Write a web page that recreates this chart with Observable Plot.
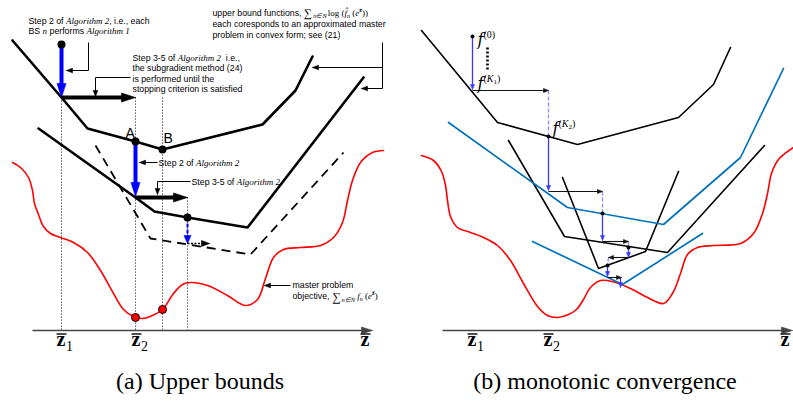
<!DOCTYPE html>
<html><head><meta charset="utf-8">
<script src="https://cdn.jsdelivr.net/npm/d3@7"></script>
<script src="https://cdn.jsdelivr.net/npm/@observablehq/plot@0.6"></script>
<style>
body{margin:0;background:#fff;}
#wrap{position:relative;width:793px;height:411px;background:#fff;}
.cap{position:absolute;top:369px;font-family:"Liberation Serif",serif;font-size:24px;line-height:24px;white-space:nowrap;transform:translateX(-50%);color:#000;}
</style></head><body>
<div id="wrap"><div id="chart"></div>
<div class="cap" style="left:200px">(a) Upper bounds</div>
<div class="cap" style="left:605px">(b) monotonic convergence</div></div>
<script>
// ---------- data (diagram units = pixels of the reference) ----------
// panel (a)
const leftUpper = [[12,40],[61,97],[87,128],[135,141],[162,149],[262,124],[295,90],[312,56]];
const leftMiddle = [[38,128],[135,197],[154,211],[187,217],[247,227],[363,77]];
const leftDashed = [[95,145],[150,238],[250,254],[343,152]];
const leftObjective = [[12,162],[20,167],[28,177],[32,190],[34,203],[38,214],[43,226],[50,233],[60,237],[73,242],[87,252],[100,270],[113,293],[123,309],[133,316],[142,318],[152,315],[162,309],[173,293],[182,284],[190,282],[207,285],[227,295],[245,305],[257,299],[265,278],[273,257],[283,249],[300,247],[320,245],[333,237],[342,222],[347,200],[352,180],[360,162],[372,152],[383,150]];
const leftBlackDots = [[61,44],[135,141],[162,149],[187,217]];
const leftRedDots = [[135,317],[162,309]];
const leftGuides = [[61,97,330],[135,97,330],[162,97,330],[187,197,330]];
const leftThickBlue = [[[61,44],[61,97]],[[135,141],[135,196]]];
const leftThickBlack = [[[61,97],[135,97]],[[135,197],[187,197]]];
const leftSmallBlue = [[[187,217],[187,243]]];
const leftSmallBlack = [[[187,243],[209,243]]];
const leaders = [[[88,42],[88,70],[66,70]],[[130,77],[95,77],[95,96]],[[382,42],[382,88],[361,88]],[[382,67],[312,67]],[[157,162],[139,162]],[[190,181],[157,181],[157,194]],[[290,285],[264,285]]];
// panel (b)
const rightUpper = [[421,30],[497,122],[577,144],[678,117],[713,84],[730,47]];
const rightBlue1 = [[448,122],[567,207],[663,224],[740,157],[783,68]];
const rightBlack2 = [[508,140],[564,236],[667,252],[764,145]];
const rightBlack3 = [[562,177],[598,268],[645,251],[678,171]];
const rightBlue2 = [[532,241],[622,284],[702,233]];
const rightObjective = [[421,155],[433,160],[441,171],[445,185],[447,200],[450,216],[457,227],[470,232],[483,237],[497,245],[510,260],[523,283],[537,306],[547,315],[557,317],[568,314],[576,309],[583,299],[590,287],[600,280],[612,281],[630,288],[647,297],[663,303],[672,293],[680,273],[687,254],[697,247],[713,245],[740,243],[753,233],[762,213],[767,193],[771,173],[778,159],[793,147]];
const rightDots = [[472,36],[548,136],[602,213],[628,247],[607,265]];
const rightBlueArrows = [[[472,36],[472,89]],[[548,136],[548,190]],[[602,213],[602,240]],[[628,247],[628,257]],[[607,265],[607,276]],[[620,277],[620,287]]];
const rightBlackArrows = [[[472,90],[548,90]],[[548,191],[602,191]],[[602,241],[628,241]],[[628,257],[608,257]],[[607,277],[621,277]]];
const rightLightDashes = [[548,90,548,136],[602,191,602,213],[628,241,628,247],[608,257,607,265]];
const rightDotted = [[487,47,487,70]];
// axes
const axes = [[[32,330],[372,330]],[[442,330],[792,330]]];
const axisLabels = [[61,"1"],[136,"2"],[365,""],[472,"1"],[548,"2"],[785,""]];
// texts: [style, text, size, dy]
const noteLines = [
  {x:28,y:23,segs:[["sans","Step 2 of ",8.75],["alg","Algorithm 2",9],["sans",", i.e., each",8.75]]},
  {x:28,y:33.5,segs:[["sans","BS ",8.75],["alg","n",9],["sans"," performs ",8.75],["alg","Algorithm 1",9]]},
  {x:132,y:60,segs:[["sans","Step 3-5 of ",8.75],["alg","Algorithm 2",9],["sans","  i.e.,",8.75]]},
  {x:132,y:70.5,segs:[["sans","the subgradient method (24)",8.75]]},
  {x:132,y:81,segs:[["sans","is performed until the",8.75]]},
  {x:132,y:91,segs:[["sans","stopping criterion is satisfied",8.75]]},
  {x:212,y:15.8,segs:[["sans","upper bound functions, ",8.75],["rm","\u2211",11.5,0.5],["rm","\u2009",5],["it","n\u2208N",6.5,1.5],["rm","\u2009",5],["rm","log",9],["rm"," (",9],["it","f\u0302",9],["it","n",6,1.5],["rm"," (",9],["it","e",9],["bf","z\u0304",6,-4],["rm","))",9]]},
  {x:212,y:26.8,segs:[["sans","each coresponds to an approximated master",8.75]]},
  {x:212,y:37,segs:[["sans","problem in convex form; see (21)",8.75]]},
  {x:158,y:165,segs:[["sans","Step 2 of ",8.75],["alg","Algorithm 2",9]]},
  {x:191,y:184,segs:[["sans","Step 3-5 of ",8.75],["alg","Algorithm 2",9]]},
  {x:292,y:287,segs:[["sans","master problem",8.75]]},
  {x:292,y:298.5,segs:[["sans","objective, ",8.75],["rm","\u2211",12,1.5],["rm","\u2009",5],["it","n\u2208N",6.5,3],["it"," f",9],["it","n",6,2],["rm"," (",9],["it","e",9],["bf","z\u0304",6,-4],["rm",")",9]]},
  {x:125,y:137,segs:[["sans","A",14]]},
  {x:163,y:142,segs:[["sans","B",14]]},
  {x:477,y:44,segs:[["mi","f",16],["rm","(0)",10,-7]]},
  {x:477,y:88,segs:[["mi","f",16],["rm","(",10,-7],["it","K",10,-7],["rm","1",7,-5],["rm",")",10,-7]]},
  {x:552,y:133,segs:[["mi","f",16],["rm","(",10,-7],["it","K",10,-7],["rm","2",7,-5],["rm",")",10,-7]]}
];

// ---------- helpers ----------
const ctx = document.createElement("canvas").getContext("2d");
const RT = {
  sans:{fontFamily:"Liberation Sans",fontStyle:"normal",fontWeight:"normal"},
  alg:{fontFamily:"Liberation Serif",fontStyle:"italic",fontWeight:"normal"},
  rm:{fontFamily:"Liberation Serif",fontStyle:"normal",fontWeight:"normal"},
  it:{fontFamily:"Liberation Serif",fontStyle:"italic",fontWeight:"normal"},
  mi:{fontFamily:"DejaVu Serif",fontStyle:"italic",fontWeight:"normal"},
  bf:{fontFamily:"Liberation Serif",fontStyle:"normal",fontWeight:"bold"}
};
function layoutText(lines){
  const out=[];
  for(const L of lines){
    let x=L.x;
    for(const [k,t,s,dy=0] of L.segs){
      const st=RT[k];
      ctx.font=`${st.fontStyle} ${st.fontWeight} ${s}px "${st.fontFamily}"`;
      if(t.trim()) out.push({k,t,s,x,y:L.y+dy});
      x+=ctx.measureText(t).width;
    }
  }
  return out;
}
function textMarks(items){
  return Object.keys(RT).map(k=>Plot.text(items.filter(d=>d.k===k),
    {x:"x",y:"y",text:"t",fontSize:d=>d.s,textAnchor:"start",lineAnchor:"bottom",fill:"black",...RT[k]}));
}
function arrowMarks(arrs,{color="black",width=1,len=6,hw=2.5,dash=null}){
  const shafts=[],heads=[];
  arrs.forEach((p,i)=>{
    const n=p.length,[x1,y1]=p[n-2],[x2,y2]=p[n-1];
    const dx=x2-x1,dy=y2-y1,L=Math.hypot(dx,dy),ux=dx/L,uy=dy/L;
    p.slice(0,n-1).forEach(([x,y])=>shafts.push({id:i,x,y}));
    shafts.push({id:i,x:x2-ux*len*0.85,y:y2-uy*len*0.85});
    const bx=x2-ux*len,by=y2-uy*len;
    heads.push({id:i,x:x2,y:y2},{id:i,x:bx-uy*hw,y:by+ux*hw},{id:i,x:bx+uy*hw,y:by-ux*hw},{id:i,x:x2,y:y2});
  });
  return [
    Plot.line(shafts,{x:"x",y:"y",z:"id",stroke:color,strokeWidth:width,strokeDasharray:dash,strokeLinecap:"butt",strokeLinejoin:"miter"}),
    Plot.line(heads,{x:"x",y:"y",z:"id",stroke:color,fill:color,strokeWidth:0.6,strokeLinejoin:"miter"})
  ];
}
const X=d=>d[0], Y=d=>d[1];

// axis label items
const zItems = [];
axisLabels.forEach(([x,s])=>{
  zItems.push({k:"bf",t:"z",s:20,x:x-5,y:345});
  if(s) zItems.push({k:"rm",t:s,s:14,x:x+4.5,y:350});
});
const zBars = axisLabels.map(([x])=>[x-5,333.5,x+5,333.5]);

const chart = Plot.plot({
  width:793, height:360, margin:0,
  x:{domain:[0,793],range:[0,793],axis:null},
  y:{domain:[0,360],range:[0,360],axis:null},
  style:{background:"white"},
  marks:[
    // objective curves
    Plot.line(leftObjective,{x:X,y:Y,curve:"catmull-rom",stroke:"#ff0000",strokeWidth:1.6}),
    Plot.line(rightObjective,{x:X,y:Y,curve:"catmull-rom",stroke:"#ff0000",strokeWidth:1.6}),
    // guides
    Plot.link(leftGuides,{x1:d=>d[0],y1:d=>d[1],x2:d=>d[0],y2:d=>d[2],stroke:"#333",strokeWidth:1,strokeDasharray:"1.2,1.8"}),
    // panel a polylines
    Plot.line(leftUpper,{x:X,y:Y,stroke:"black",strokeWidth:2.6,strokeLinejoin:"miter"}),
    Plot.line(leftMiddle,{x:X,y:Y,stroke:"black",strokeWidth:2.6,strokeLinejoin:"miter"}),
    Plot.line(leftDashed,{x:X,y:Y,stroke:"black",strokeWidth:1.8,strokeDasharray:"9,6",strokeLinecap:"butt",strokeLinejoin:"miter"}),
    // panel b polylines
    Plot.line(rightUpper,{x:X,y:Y,stroke:"black",strokeWidth:1.6,strokeLinejoin:"miter"}),
    Plot.line(rightBlack2,{x:X,y:Y,stroke:"black",strokeWidth:1.6,strokeLinejoin:"miter"}),
    Plot.line(rightBlack3,{x:X,y:Y,stroke:"black",strokeWidth:1.6,strokeLinejoin:"miter"}),
    Plot.line(rightBlue1,{x:X,y:Y,stroke:"#0072bd",strokeWidth:1.7,strokeLinejoin:"miter"}),
    Plot.line(rightBlue2,{x:X,y:Y,stroke:"#0072bd",strokeWidth:1.7,strokeLinejoin:"miter"}),
    // axes
    ...arrowMarks(axes,{color:"#444",width:1.5,len:11,hw:3.5}),
    Plot.link(zBars,{x1:d=>d[0],y1:d=>d[1],x2:d=>d[2],y2:d=>d[3],stroke:"#222",strokeWidth:1.6}),
    // arrows panel a
    ...arrowMarks(leaders,{color:"black",width:1,len:6,hw:2.3}),
    ...arrowMarks(leftThickBlue,{color:"#0000ff",width:4,len:14,hw:4.5}),
    ...arrowMarks(leftThickBlack,{color:"black",width:4,len:14,hw:4.5}),
    ...arrowMarks(leftSmallBlue,{color:"#0000ff",width:2,len:8,hw:3.5,dash:"4,2"}),
    ...arrowMarks(leftSmallBlack,{color:"black",width:1.5,len:8,hw:3,dash:"2,1.5"}),
    // arrows panel b
    Plot.link(rightLightDashes,{x1:d=>d[0],y1:d=>d[1],x2:d=>d[2],y2:d=>d[3],stroke:"#8c8cff",strokeWidth:1.3,strokeDasharray:"4,2"}),
    Plot.link(rightDotted,{x1:d=>d[0],y1:d=>d[1],x2:d=>d[2],y2:d=>d[3],stroke:"black",strokeWidth:2.6,strokeDasharray:"2,2"}),
    ...arrowMarks(rightBlueArrows,{color:"#3a3aff",width:1.3,len:5,hw:2}),
    ...arrowMarks(rightBlackArrows,{color:"#111",width:1.1,len:5,hw:2}),
    // dots
    Plot.dot(leftBlackDots,{x:X,y:Y,r:4,fill:"black",stroke:"none"}),
    Plot.dot(leftRedDots,{x:X,y:Y,r:4,fill:"#ff0000",stroke:"black",strokeWidth:1}),
    Plot.dot(rightDots,{x:X,y:Y,r:2,fill:"black",stroke:"none"}),
    // text
    ...textMarks(layoutText(noteLines).concat(zItems))
  ]
});
document.getElementById("chart").appendChild(chart);
</script>
</body></html>
